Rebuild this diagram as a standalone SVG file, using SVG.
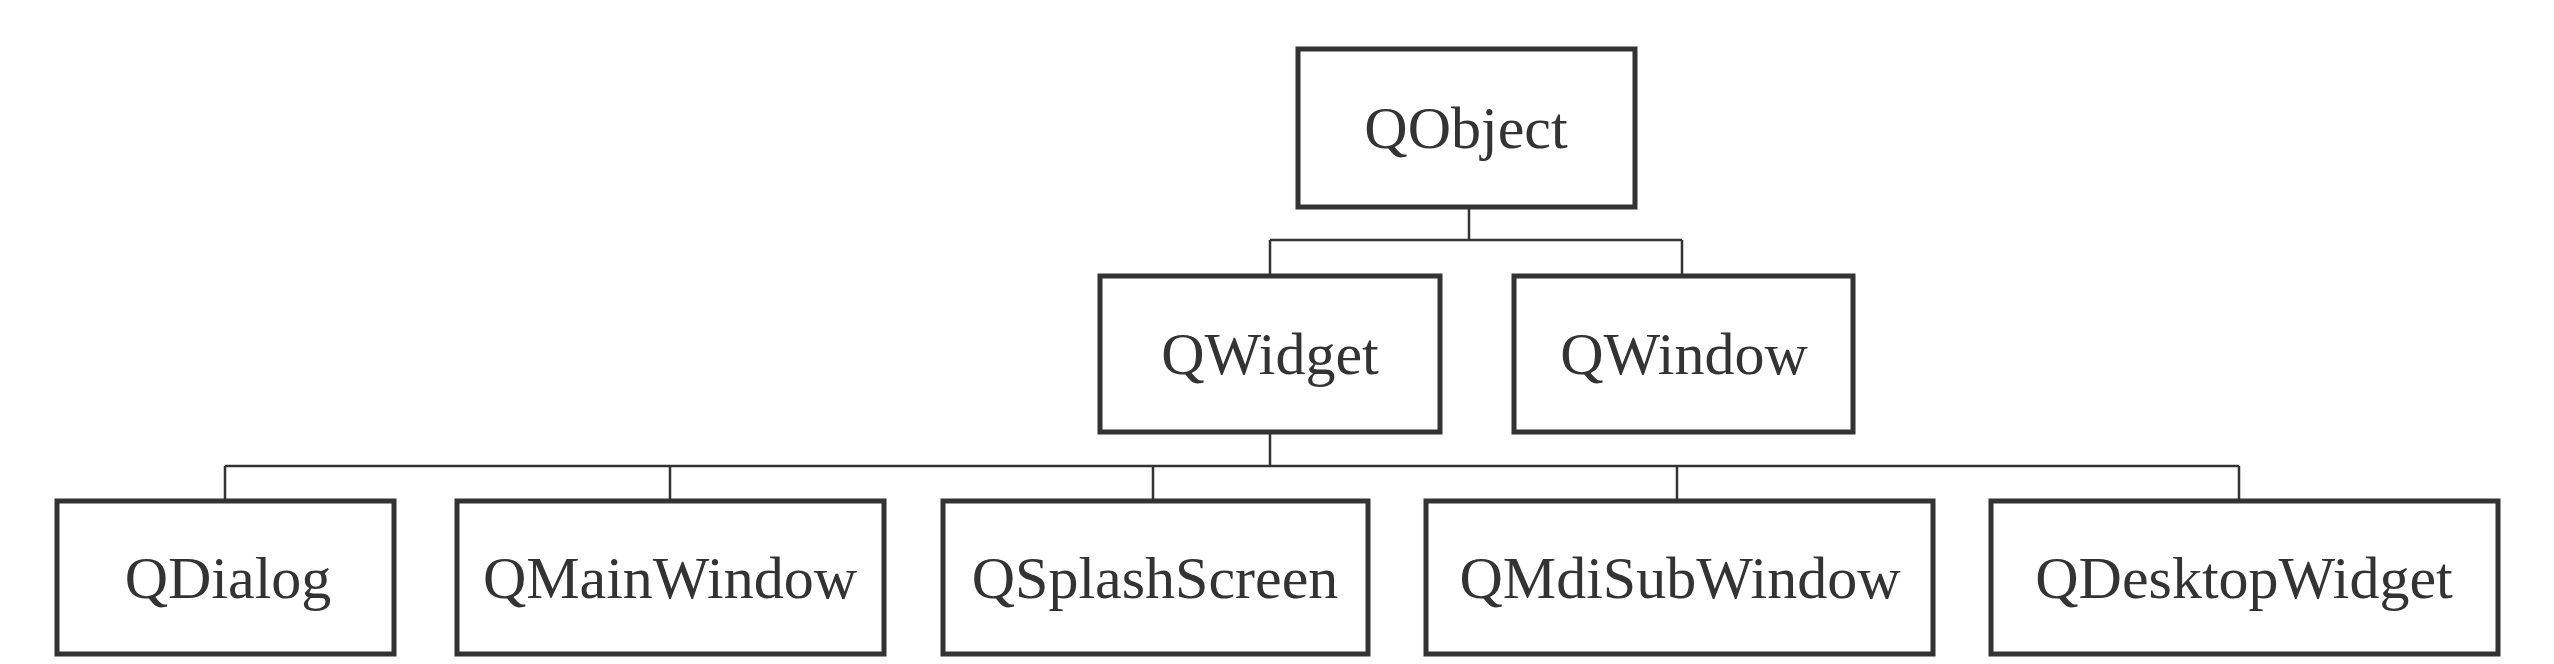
<svg xmlns="http://www.w3.org/2000/svg" width="2554" height="664" viewBox="0 0 2554 664">
<style>
.box{fill:#ffffff;stroke:#333333;stroke-width:5}
.lbl{font-family:"Liberation Serif","Times New Roman",serif;font-size:60px;fill:#333333;text-anchor:middle}
.conn{fill:none;stroke:#333333;stroke-width:2.5}
</style>
<rect width="2554" height="664" fill="#ffffff"/>
<g id="connectors">
<path class="conn" d="M1469 207 V240 M1270 240 H1682 M1270 240 V276 M1682 240 V276"/>
<path class="conn" d="M1270 432 V466 M225 466 H2239 M225 466 V501 M670 466 V501 M1153 466 V501 M1677 466 V501 M2239 466 V501"/>
</g>
<g id="QObject"><rect class="box" x="1298" y="49" width="337" height="158"/><text class="lbl" x="1466" y="148">QObject</text></g>
<g id="QWidget"><rect class="box" x="1100" y="276" width="340" height="156"/><text class="lbl" x="1270" y="374">QWidget</text></g>
<g id="QWindow"><rect class="box" x="1514" y="276" width="339" height="156"/><text class="lbl" x="1684" y="374">QWindow</text></g>
<g id="QDialog"><rect class="box" x="57" y="501" width="337" height="153"/><text class="lbl" x="228" y="598">QDialog</text></g>
<g id="QMainWindow"><rect class="box" x="457" y="501" width="427" height="153"/><text class="lbl" x="670" y="598">QMainWindow</text></g>
<g id="QSplashScreen"><rect class="box" x="943" y="501" width="425" height="153"/><text class="lbl" x="1155" y="598">QSplashScreen</text></g>
<g id="QMdiSubWindow"><rect class="box" x="1426" y="501" width="507" height="153"/><text class="lbl" x="1680" y="598">QMdiSubWindow</text></g>
<g id="QDesktopWidget"><rect class="box" x="1991" y="501" width="507" height="153"/><text class="lbl" x="2244" y="598">QDesktopWidget</text></g>
</svg>
